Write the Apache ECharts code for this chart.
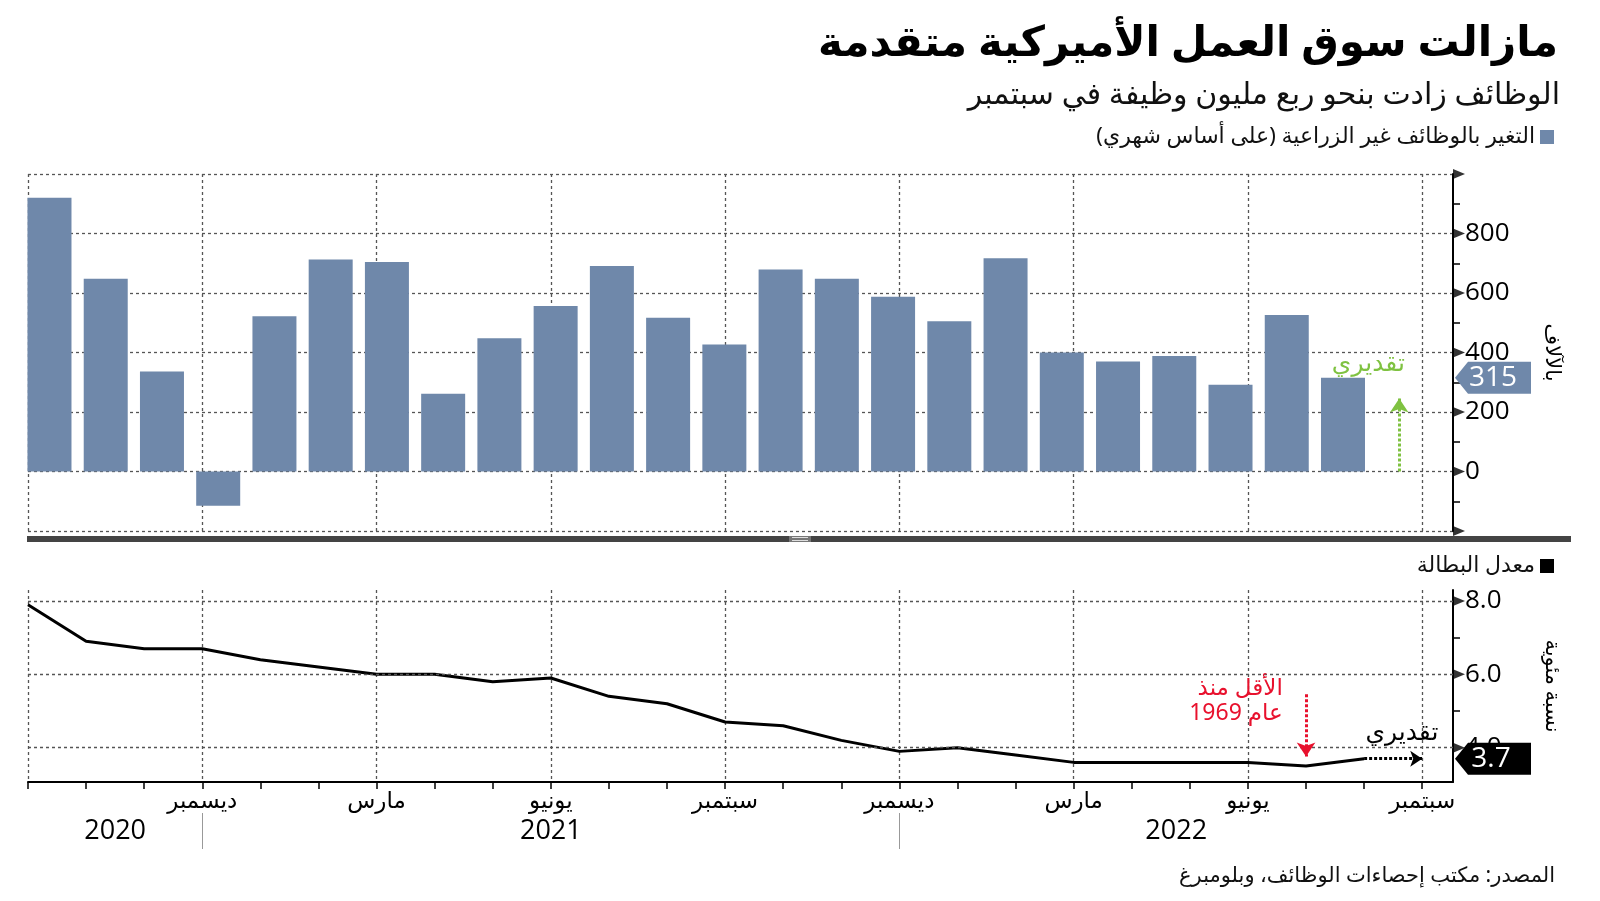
<!DOCTYPE html>
<html dir="rtl">
<head>
<meta charset="utf-8">
<script src="https://cdn.jsdelivr.net/npm/echarts@6/dist/echarts.min.js"></script>
<style>html,body{margin:0;padding:0;background:#fff}#c{width:1600px;height:901px}</style>
</head>
<body>
<div id="c"></div>
<script>
// ---- data ----
const months = ['سبتمبر','أكتوبر','نوفمبر','ديسمبر','يناير','فبراير','مارس','أبريل','مايو','يونيو','يوليو','أغسطس',
                'سبتمبر','أكتوبر','نوفمبر','ديسمبر','يناير','فبراير','مارس','أبريل','مايو','يونيو','يوليو','أغسطس','سبتمبر'];
const payrolls = [920,648,336,-115,522,713,704,261,448,556,691,517,427,679,648,587,505,717,400,370,388,292,526,315,null];
const unemployment = [7.9,6.9,6.7,6.7,6.4,6.2,6.0,6.0,5.8,5.9,5.4,5.2,4.7,4.6,4.2,3.9,4.0,3.8,3.6,3.6,3.6,3.6,3.5,3.7,null];
const years = ['2020','2021','2022'];
const yearBreaks = [3, 15];          // month index where a new year block starts (divider ticks)
const monthLabelIdx = [3,6,9,12,15,18,21,24];
const payrollLabels = [0,200,400,600,800];
const rateLabels = [4,6,8];
const rateMinor = [5,7];
const lowestIdx = 22;                // lowest since 1969

const barName = 'التغير بالوظائف غير الزراعية (على أساس شهري)';
const lineName = 'معدل البطالة';

// ---- layout constants ----
const FONT = "'Noto Sans','DejaVu Sans',sans-serif";
const BAR_COLOR = '#6f88aa';
const GREEN = '#7fc241';
const RED = '#e8112d';
const MONTH_MAX = 24.53;             // month-axis extent
const BAR_MIN = -0.382, BAR_MAX = 24.956;
const TAG = 'path://M0,16 L13,0 L76,0 L76,32 L13,32 Z';
const dash = {type:[3,3], color:'#555', width:1.3};

const lastIdx = payrolls.reduce((a,v,i)=> v!=null ? i : a, 0);
const lastRateIdx = unemployment.reduce((a,v,i)=> v!=null ? i : a, 0);
const barData = payrolls.map((v,i)=>[i,v]).filter(d=>d[1]!=null);
const lineData = unemployment.map((v,i)=>[i,v]).filter(d=>d[1]!=null);
const monthTickVals = months.map((m,i)=>i);
const yearBounds = [0, ...yearBreaks, MONTH_MAX];
const yearCenters = years.map((y,i)=> +( (yearBounds[i]+yearBounds[i+1])/2 ).toFixed(3));

const chart = echarts.init(document.getElementById('c'), null, {renderer:'canvas'});
const option = {
  animation:false,
  backgroundColor:'#fff',
  textStyle:{fontFamily:FONT},
  title:[
    {text:'مازالت سوق العمل الأميركية متقدمة', right:37, top:18,
     textStyle:{fontSize:42, fontWeight:'bold', color:'#000', fontFamily:FONT}},
    {text:'الوظائف زادت بنحو ربع مليون وظيفة في سبتمبر', right:35, top:75,
     textStyle:{fontSize:30, fontWeight:'normal', color:'#111', fontFamily:FONT}},
    {text:'المصدر: مكتب إحصاءات الوظائف، وبلومبرغ', right:40, top:861,
     textStyle:{fontSize:21, fontWeight:'normal', color:'#111', fontFamily:FONT}}
  ],
  legend:[
    {data:[{name:barName, icon:'rect'}], right:46, top:126, align:'right', itemWidth:14, itemHeight:14,
     padding:0, textStyle:{fontSize:22, color:'#111', fontFamily:FONT}},
    {data:[{name:lineName, icon:'rect'}], right:46, top:555, align:'right', itemWidth:14, itemHeight:14,
     padding:0, textStyle:{fontSize:22, color:'#111', fontFamily:FONT}}
  ],
  grid:[
    {left:28, right:147, top:174, height:357},
    {left:28, right:147, top:590, height:192}
  ],
  xAxis:[
    {gridIndex:0, type:'value', min:BAR_MIN, max:BAR_MAX, show:false},
    {gridIndex:0, type:'value', min:0, max:MONTH_MAX, interval:3, position:'top',
     axisLine:{show:false}, axisTick:{show:false}, axisLabel:{show:false},
     splitLine:{show:true, showMinLine:true, showMaxLine:false, lineStyle:dash}},
    {gridIndex:1, type:'value', min:0, max:MONTH_MAX, position:'bottom',
     axisLine:{show:true, onZero:false, lineStyle:{color:'#000', width:2}},
     axisTick:{show:true, customValues:monthTickVals, length:7, lineStyle:{color:'#000', width:1.5}},
     axisLabel:{show:true, customValues:monthLabelIdx, formatter:v=>months[Math.round(v)],
       fontSize:23, color:'#000', margin:8, fontFamily:FONT},
     splitLine:{show:false}},
    {gridIndex:1, type:'value', min:0, max:MONTH_MAX, interval:3, position:'top',
     axisLine:{show:false}, axisTick:{show:false}, axisLabel:{show:false},
     splitLine:{show:true, showMinLine:true, showMaxLine:false, lineStyle:dash}},
    {gridIndex:1, type:'value', min:0, max:MONTH_MAX, position:'bottom', offset:31,
     axisLine:{show:false, onZero:false},
     axisTick:{show:true, customValues:yearBreaks, length:36, lineStyle:{color:'#999', width:1}},
     axisLabel:{show:true, customValues:yearCenters, formatter:v=>years[yearCenters.indexOf(v)],
       fontSize:27, color:'#000', margin:5, fontFamily:"'Liberation Sans Narrow','Open Sans',sans-serif"},
     splitLine:{show:false}}
  ],
  yAxis:[
    {gridIndex:0, type:'value', position:'right', min:-200, max:1000, interval:200,
     axisLine:{show:true, onZero:false, lineStyle:{color:'#000', width:2}},
     axisTick:{show:false},
     minorTick:{show:true, splitNumber:2, length:7, lineStyle:{color:'#000', width:1.5}},
     axisLabel:{show:true, formatter:v=> payrollLabels.includes(v) ? String(v) : '',
       fontSize:26, color:'#000', margin:12, fontFamily:"'Open Sans',sans-serif"},
     splitLine:{show:true, lineStyle:dash},
     name:'بالآلاف', nameLocation:'middle', nameRotate:-90, nameGap:88,
     nameTextStyle:{fontSize:21, color:'#000', fontFamily:FONT}},
    {gridIndex:1, type:'value', position:'right', min:3.065, max:8.3,
     axisLine:{show:true, onZero:false, lineStyle:{color:'#000', width:2}},
     axisTick:{show:true, customValues:rateMinor, length:7, lineStyle:{color:'#000', width:1.5}},
     axisLabel:{show:true, customValues:rateLabels, formatter:v=>v.toFixed(1),
       fontSize:26, color:'#000', margin:12, fontFamily:"'Open Sans',sans-serif"},
     splitLine:{show:false},
     name:'نسبة مئوية', nameLocation:'middle', nameRotate:-90, nameGap:88,
     nameTextStyle:{fontSize:21, color:'#000', fontFamily:FONT}}
  ],
  series:[
    {name:barName, type:'bar', xAxisIndex:0, yAxisIndex:0, data:barData, barWidth:44,
     itemStyle:{color:BAR_COLOR}, z:3,
     markLine:{silent:true, symbol:['none','none'], label:{show:false},
       data:[[
         {coord:[lastIdx+1, 0], symbol:'none', lineStyle:{color:GREEN, width:3, type:[3,2]}},
         {coord:[lastIdx+1, 245], symbol:'arrow', symbolSize:[14,14], lineStyle:{color:GREEN, width:3, type:[3,2]}}
       ]]},
     markPoint:{silent:true, data:[
       {coord:[BAR_MAX, payrolls[lastIdx]], value:payrolls[lastIdx], symbol:TAG, symbolSize:[76,32], symbolOffset:[40,0],
        itemStyle:{color:BAR_COLOR},
        label:{show:true, position:'inside', formatter:'{c}', color:'#fff', fontSize:28, offset:[0,0], fontFamily:"'Open Sans',sans-serif"}},
       {coord:[lastIdx+1.1, 362], value:0, symbol:'circle', symbolSize:1, itemStyle:{color:'transparent'},
        label:{show:true, position:'inside', align:'right', verticalAlign:'middle', formatter:'تقديري', color:GREEN, fontSize:25, fontFamily:FONT}}
     ]}},
    {name:lineName, type:'line', xAxisIndex:2, yAxisIndex:1, data:lineData, symbol:'none',
     itemStyle:{color:'#000'}, lineStyle:{color:'#000', width:3}, z:3,
     markLine:{silent:true, symbol:['none','none'], label:{show:false}, lineStyle:dash,
       data:[
         ...rateLabels.map(v=>({yAxis:v, lineStyle:dash, symbol:'none'})),
         [{coord:[lastRateIdx, unemployment[lastRateIdx]], symbol:'none', lineStyle:{color:'#000', width:3, type:[3,2]}},
          {coord:[lastRateIdx+1, unemployment[lastRateIdx]], symbol:'arrow', symbolSize:[12,12], lineStyle:{color:'#000', width:3, type:[3,2]}}],
         [{coord:[lowestIdx, 5.46], symbol:'none', lineStyle:{color:RED, width:3, type:[3,2]}},
          {coord:[lowestIdx, 3.76], symbol:'arrow', symbolSize:[14,14], lineStyle:{color:RED, width:3, type:[3,2]}}]
       ]},
     markPoint:{silent:true, data:[
       {coord:[MONTH_MAX, unemployment[lastRateIdx]], value:unemployment[lastRateIdx], symbol:TAG, symbolSize:[76,32], symbolOffset:[40,0],
        itemStyle:{color:'#000'},
        label:{show:true, position:'inside', formatter:p=>Number(p.value).toFixed(1), color:'#fff', fontSize:28, offset:[-2,0], fontFamily:"'Open Sans',sans-serif"}},
       {coord:[lowestIdx-0.4, 5.27], value:0, symbol:'circle', symbolSize:1, itemStyle:{color:'transparent'},
        label:{show:true, position:'inside', align:'right', verticalAlign:'middle', formatter:'الأقل منذ\nعام 1969', lineHeight:25, color:RED, fontSize:23, fontFamily:FONT}},
       {coord:[lastRateIdx+1.28, 4.40], value:0, symbol:'circle', symbolSize:1, itemStyle:{color:'transparent'},
        label:{show:true, position:'inside', align:'right', verticalAlign:'middle', formatter:'تقديري', color:'#000', fontSize:25, fontFamily:FONT}}
     ]}},
    {name:'arrowsTop', type:'scatter', xAxisIndex:0, yAxisIndex:0, silent:true, clip:false,
     data:[-200,0,200,400,600,800,1000].map(v=>[BAR_MAX, v]),
     symbol:'triangle', symbolSize:[10,12], symbolRotate:-90, symbolOffset:[6,0], itemStyle:{color:'#000'}, z:5},
    {name:'arrowsBottom', type:'scatter', xAxisIndex:2, yAxisIndex:1, silent:true, clip:false,
     data:rateLabels.map(v=>[MONTH_MAX, v]),
     symbol:'triangle', symbolSize:[10,12], symbolRotate:-90, symbolOffset:[6,0], itemStyle:{color:'#000'}, z:5}
  ],
  graphic:[
    {type:'rect', left:27, top:536, shape:{width:1544, height:6}, style:{fill:'#444'}, silent:true},
    {type:'rect', left:789, top:536, shape:{width:22, height:6}, style:{fill:'#777'}, silent:true},
    {type:'rect', left:792, top:537, shape:{width:16, height:1}, style:{fill:'#ddd'}, silent:true},
    {type:'rect', left:792, top:540, shape:{width:16, height:1}, style:{fill:'#ddd'}, silent:true}
  ]
};
chart.setOption(option);
</script>
</body>
</html>
